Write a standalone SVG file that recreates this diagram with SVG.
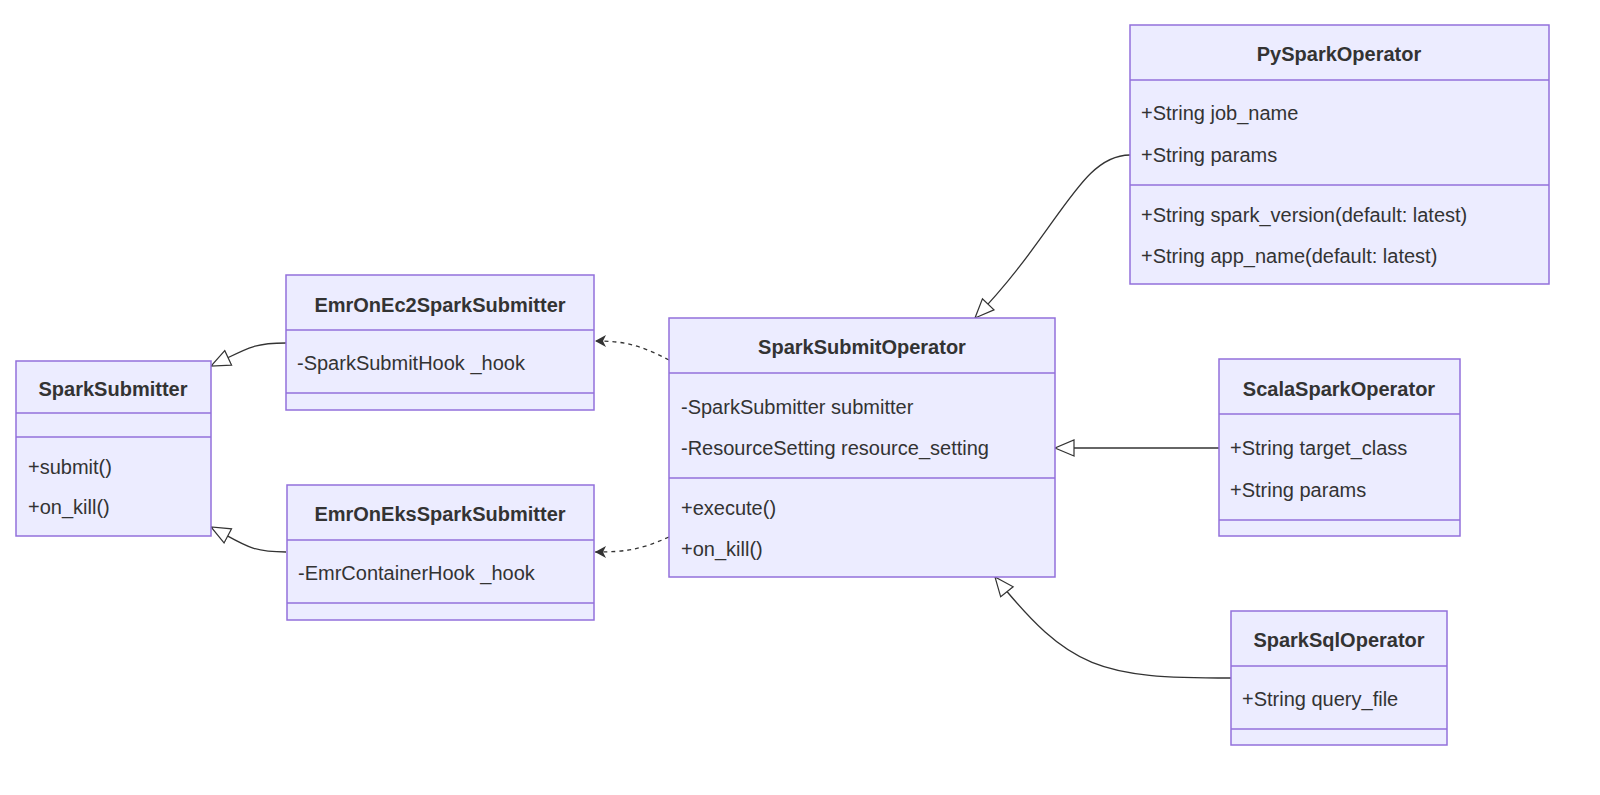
<svg xmlns="http://www.w3.org/2000/svg" width="1600" height="795" viewBox="0 0 1600 795">
<style>
.box{fill:#ECECFF;stroke:#9370DB;stroke-width:1.5}
.div{stroke:#9370DB;stroke-width:1.5}
text{font-family:"Liberation Sans",Arial,sans-serif;font-size:20px;fill:#333}
.t{font-weight:bold;text-anchor:middle}
.e{fill:none;stroke:#333;stroke-width:1.3}
.d{stroke-dasharray:4 4}
</style>
<defs>
<marker id="tri" markerUnits="userSpaceOnUse" markerWidth="22" markerHeight="20" refX="20" refY="9" orient="auto">
<path d="M1,1 L20,9 L1,17 Z" fill="#fff" stroke="#333" stroke-width="1.2"/>
</marker>
<marker id="arr" markerUnits="userSpaceOnUse" markerWidth="14" markerHeight="14" refX="12" refY="7" orient="auto">
<path d="M1,1 L12,7 L1,13 L4,7 Z" fill="#333"/>
</marker>
</defs>
<rect width="1600" height="795" fill="#fff"/>
<g id="connectors">
<path class="e" d="M286,343 C250,343 245,350 211,366" marker-end="url(#tri)"/>
<path class="e" d="M286,552 C250,552 245,545 211,527" marker-end="url(#tri)"/>
<path class="e d" d="M669,360 C640,345 625,341 595,341" marker-end="url(#arr)"/>
<path class="e d" d="M669,537 C640,550 625,552 595,552" marker-end="url(#arr)"/>
<path class="e" d="M1130,155 C1080,155 1060,230 975,318" marker-end="url(#tri)"/>
<path class="e" d="M1219,448 L1055,448" marker-end="url(#tri)"/>
<path class="e" d="M1231,678 C1100,678 1070,670 995,577" marker-end="url(#tri)"/>
</g>
<g id="SparkSubmitter">
<rect class="box" x="16" y="361" width="195" height="175"/>
<line class="div" x1="16" y1="413" x2="211" y2="413"/><line class="div" x1="16" y1="437" x2="211" y2="437"/>
<text class="t" x="113" y="396">SparkSubmitter</text>
<text x="28" y="474">+submit()</text><text x="28" y="514">+on_kill()</text>
</g>
<g id="EmrOnEc2SparkSubmitter">
<rect class="box" x="286" y="275" width="308" height="135"/>
<line class="div" x1="286" y1="330" x2="594" y2="330"/><line class="div" x1="286" y1="393" x2="594" y2="393"/>
<text class="t" x="440" y="312">EmrOnEc2SparkSubmitter</text>
<text x="297" y="370">-SparkSubmitHook _hook</text>
</g>
<g id="EmrOnEksSparkSubmitter">
<rect class="box" x="287" y="485" width="307" height="135"/>
<line class="div" x1="287" y1="540" x2="594" y2="540"/><line class="div" x1="287" y1="603" x2="594" y2="603"/>
<text class="t" x="440" y="521">EmrOnEksSparkSubmitter</text>
<text x="298" y="580">-EmrContainerHook _hook</text>
</g>
<g id="SparkSubmitOperator">
<rect class="box" x="669" y="318" width="386" height="259"/>
<line class="div" x1="669" y1="373" x2="1055" y2="373"/><line class="div" x1="669" y1="478" x2="1055" y2="478"/>
<text class="t" x="862" y="354">SparkSubmitOperator</text>
<text x="681" y="414">-SparkSubmitter submitter</text>
<text x="681" y="455">-ResourceSetting resource_setting</text>
<text x="681" y="515">+execute()</text>
<text x="681" y="556">+on_kill()</text>
</g>
<g id="PySparkOperator">
<rect class="box" x="1130" y="25" width="419" height="259"/>
<line class="div" x1="1130" y1="80" x2="1549" y2="80"/><line class="div" x1="1130" y1="185" x2="1549" y2="185"/>
<text class="t" x="1339" y="61">PySparkOperator</text>
<text x="1141" y="120">+String job_name</text>
<text x="1141" y="162">+String params</text>
<text x="1141" y="222">+String spark_version(default: latest)</text>
<text x="1141" y="263">+String app_name(default: latest)</text>
</g>
<g id="ScalaSparkOperator">
<rect class="box" x="1219" y="359" width="241" height="177"/>
<line class="div" x1="1219" y1="414" x2="1460" y2="414"/><line class="div" x1="1219" y1="520" x2="1460" y2="520"/>
<text class="t" x="1339" y="396">ScalaSparkOperator</text>
<text x="1230" y="455">+String target_class</text>
<text x="1230" y="497">+String params</text>
</g>
<g id="SparkSqlOperator">
<rect class="box" x="1231" y="611" width="216" height="134"/>
<line class="div" x1="1231" y1="666" x2="1447" y2="666"/><line class="div" x1="1231" y1="729" x2="1447" y2="729"/>
<text class="t" x="1339" y="647">SparkSqlOperator</text>
<text x="1242" y="706">+String query_file</text>
</g>
</svg>
